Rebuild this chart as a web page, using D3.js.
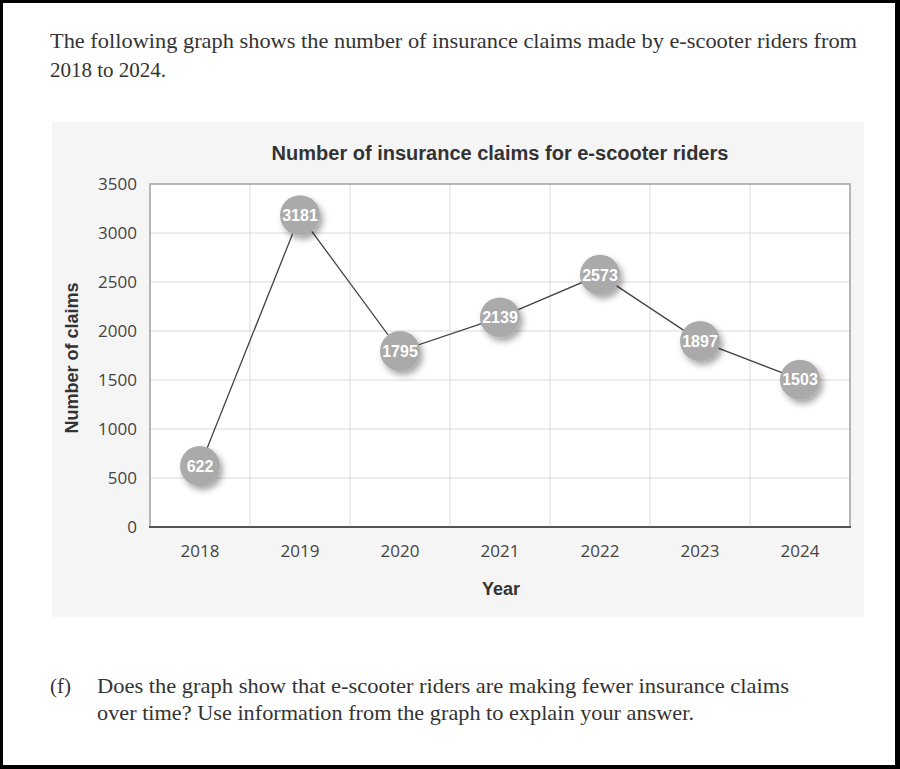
<!DOCTYPE html>
<html><head><meta charset="utf-8">
<script src="https://cdn.jsdelivr.net/npm/d3@7"></script>
<style>
html,body{margin:0;padding:0;background:#000;}
svg{display:block;}
</style></head>
<body>
<script>
const years = ["2018","2019","2020","2021","2022","2023","2024"];
const claims = [622,3181,1795,2139,2573,1897,1503];
const yTicks = [0,500,1000,1500,2000,2500,3000,3500];
const introLines = ["The following graph shows the number of insurance claims made by e-scooter riders from","2018 to 2024."];
const questionLines = ["Does the graph show that e-scooter riders are making fewer insurance claims","over time? Use information from the graph to explain your answer."];

const W=900,H=769;
const svg=d3.select("body").append("svg").attr("width",W).attr("height",H);
svg.append("rect").attr("width",W).attr("height",H).attr("fill","#000");
svg.append("rect").attr("x",3).attr("y",3).attr("width",892).attr("height",762).attr("fill","#fff");

const serif="'Liberation Serif','DejaVu Serif',serif";
svg.append("text").attr("x",50).attr("y",48).attr("font-family",serif).attr("font-size",21).attr("fill","#333")
  .attr("textLength",807).attr("lengthAdjust","spacingAndGlyphs").text(introLines[0]);
svg.append("text").attr("x",50).attr("y",77).attr("font-family",serif).attr("font-size",21).attr("fill","#333").text(introLines[1]);

svg.append("text").attr("x",50).attr("y",693).attr("font-family",serif).attr("font-size",21).attr("fill","#333").text("(f)");
svg.append("text").attr("x",97).attr("y",693).attr("font-family",serif).attr("font-size",21).attr("fill","#333")
  .attr("textLength",692).attr("lengthAdjust","spacingAndGlyphs").text(questionLines[0]);
svg.append("text").attr("x",97).attr("y",720).attr("font-family",serif).attr("font-size",21).attr("fill","#333")
  .attr("textLength",597).attr("lengthAdjust","spacingAndGlyphs").text(questionLines[1]);

// chart panel
svg.append("rect").attr("x",52).attr("y",122).attr("width",812).attr("height",495).attr("fill","#f5f5f5");

const L=150,R=850,T=184,B=527;
const x=d3.scaleBand().domain(years).range([L,R]);
const y=d3.scaleLinear().domain([0,3500]).range([B,T]);

const defs=svg.append("defs");
const f=defs.append("filter").attr("id","sh").attr("x","-50%").attr("y","-50%").attr("width","200%").attr("height","200%");
f.append("feDropShadow").attr("dx",3).attr("dy",4).attr("stdDeviation",3).attr("flood-color","#000").attr("flood-opacity",0.35);

svg.append("rect").attr("x",L).attr("y",T).attr("width",R-L).attr("height",B-T).attr("fill","#fff");

// gridlines
const g=svg.append("g");
g.selectAll("line.h").data(yTicks.slice(1,-1)).join("line")
  .attr("x1",L).attr("x2",R).attr("y1",d=>y(d)).attr("y2",d=>y(d)).attr("stroke","#d9d9d9").attr("stroke-width",1);
g.selectAll("line.v").data(years.slice(1)).join("line")
  .attr("x1",d=>x(d)).attr("x2",d=>x(d)).attr("y1",T).attr("y2",B).attr("stroke","#d9d9d9").attr("stroke-width",1);

// frame
svg.append("path").attr("d",`M${L},${B}V${T}H${R}V${B}`).attr("fill","none").attr("stroke","#a0a0a0").attr("stroke-width",1.5);
svg.append("line").attr("x1",L-1).attr("x2",R+1).attr("y1",B).attr("y2",B).attr("stroke","#555").attr("stroke-width",2);

// axes
const sans="'Open Sans','Noto Sans',sans-serif";
const yAxis=svg.append("g").attr("transform",`translate(${L},0)`)
  .call(d3.axisLeft(y).tickValues(yTicks).tickFormat(d3.format("d")).tickSize(0).tickPadding(13));
yAxis.select(".domain").remove();
yAxis.attr("font-size",null).attr("font-family",null);
yAxis.selectAll("text").style("font-family",sans).style("font-size","17px").attr("fill","#444");
const xAxis=svg.append("g").attr("transform",`translate(0,${B})`).call(d3.axisBottom(x).tickSize(0).tickPadding(18));
xAxis.select(".domain").remove();
xAxis.attr("font-size",null).attr("font-family",null);
xAxis.selectAll("text").style("font-family",sans).style("font-size","17px").attr("fill","#444");

const arial="'Liberation Sans',Arial,sans-serif";
svg.append("text").attr("x",500).attr("y",160).attr("text-anchor","middle").attr("font-family",arial).attr("font-weight","bold").attr("font-size",20).attr("fill","#333").text("Number of insurance claims for e-scooter riders");
svg.append("text").attr("x",501).attr("y",595).attr("text-anchor","middle").attr("font-family",arial).attr("font-weight","bold").attr("font-size",18).attr("fill","#333").text("Year");
svg.append("text").attr("transform","translate(78,358) rotate(-90)").attr("text-anchor","middle").attr("font-family",arial).attr("font-weight","bold").attr("font-size",18).attr("fill","#333").text("Number of claims");

// line
const data=years.map((d,i)=>({year:d,v:claims[i]}));
svg.append("path").datum(data).attr("fill","none").attr("stroke","#444").attr("stroke-width",1.3)
  .attr("d",d3.line().x(d=>x(d.year)+x.bandwidth()/2).y(d=>y(d.v)));

const pts=svg.selectAll("g.pt").data(data).join("g").attr("transform",d=>`translate(${x(d.year)+x.bandwidth()/2},${y(d.v)})`);
pts.append("circle").attr("r",20).attr("fill","#aaaaaa").attr("filter","url(#sh)");
pts.append("text").attr("text-anchor","middle").attr("dy","0.36em").attr("font-family",arial).attr("font-weight","bold").attr("font-size",16).attr("fill","#fff").text(d=>d.v);
</script>
</body></html>
